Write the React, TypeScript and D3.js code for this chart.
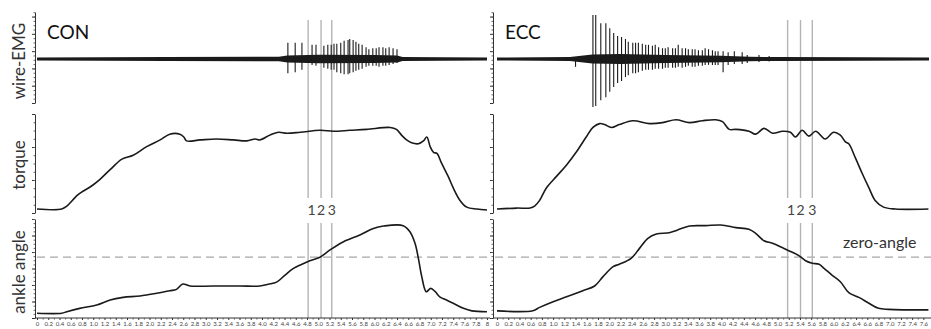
import * as React from 'react';
import * as d3 from 'd3';

const W = 931;
const H = 329;

// ---- event markers (s) ----
const conMarkers = [4.82, 5.05, 5.24];
const eccMarkers = [5.18, 5.41, 5.62];
const markerLabels = ['1', '2', '3'];

// ---- wire-EMG: single motor unit spikes (time s, amplitude up / down, a.u.) ----
const conSpikeT = [4.46, 4.59, 4.71, 4.89, 4.96, 5.10, 5.17, 5.23, 5.28, 5.33, 5.40, 5.46, 5.53, 5.56,
  5.62, 5.67, 5.72, 5.78, 5.85, 5.90, 5.97, 6.03, 6.08, 6.15, 6.20, 6.26, 6.33, 6.40];
const conSpikeUp = [0.33, 0.33, 0.33, 0.29, 0.29, 0.27, 0.29, 0.29, 0.31, 0.31, 0.33, 0.37, 0.39, 0.41,
  0.39, 0.35, 0.31, 0.29, 0.24, 0.20, 0.22, 0.22, 0.24, 0.24, 0.22, 0.24, 0.22, 0.20];
const conSpikeDown = [0.29, 0.27, 0.22, 0.12, 0.14, 0.18, 0.20, 0.22, 0.22, 0.27, 0.29, 0.31, 0.31, 0.29,
  0.27, 0.24, 0.22, 0.20, 0.16, 0.14, 0.14, 0.14, 0.16, 0.14, 0.14, 0.12, 0.10, 0.08];

const eccSpikeT = [1.40, 1.71, 1.76, 1.85, 1.94, 2.01, 2.08, 2.15, 2.22, 2.29, 2.34, 2.42, 2.47, 2.52, 2.59,
  2.65, 2.70, 2.77, 2.82, 2.88, 2.95, 3.00, 3.05, 3.13, 3.18, 3.23, 3.30, 3.36, 3.41, 3.48, 3.53, 3.59,
  3.66, 3.71, 3.77, 3.84, 3.89, 3.94, 4.03, 4.12, 4.23, 4.37, 4.46, 4.67, 4.85];
const eccSpikeUp = [0.02, 0.90, 0.90, 0.73, 0.73, 0.63, 0.53, 0.47, 0.45, 0.41, 0.35, 0.33, 0.33, 0.33, 0.31,
  0.29, 0.29, 0.27, 0.29, 0.24, 0.22, 0.22, 0.24, 0.22, 0.22, 0.29, 0.22, 0.22, 0.20, 0.20, 0.20, 0.18,
  0.18, 0.22, 0.20, 0.18, 0.16, 0.16, 0.16, 0.14, 0.16, 0.14, 0.08, 0.08, 0.06];
const eccSpikeDown = [0.16, 0.98, 0.96, 0.84, 0.78, 0.67, 0.57, 0.49, 0.45, 0.37, 0.33, 0.29, 0.29, 0.27, 0.24,
  0.22, 0.22, 0.22, 0.20, 0.20, 0.20, 0.18, 0.18, 0.18, 0.18, 0.16, 0.18, 0.16, 0.14, 0.16, 0.16, 0.14,
  0.14, 0.12, 0.12, 0.12, 0.12, 0.12, 0.27, 0.12, 0.10, 0.10, 0.08, 0.06, 0.05];

// background noise envelope (half width, a.u.)
const conNoiseT = [0, 2.3, 4.3, 4.45, 5.0, 6.0, 6.4, 6.5, 7.2, 8];
const conNoiseW = [0.03, 0.04, 0.045, 0.07, 0.085, 0.08, 0.07, 0.04, 0.035, 0.03];
const eccNoiseT = [0, 1.3, 1.7, 2.2, 3.0, 4.0, 4.5, 5.0, 6.5, 7.7];
const eccNoiseW = [0.03, 0.04, 0.09, 0.10, 0.08, 0.065, 0.045, 0.04, 0.035, 0.03];

// ---- torque (% of max) ----
const conTorqueT = [0, 0.44, 0.53, 0.73, 0.97, 1.12, 1.30, 1.51, 1.71, 1.95, 2.19, 2.36, 2.54, 2.61, 2.66,
  2.90, 3.19, 3.49, 3.73, 3.88, 3.96, 4.14, 4.29, 4.44, 4.68, 5.03, 5.27, 5.56, 5.86, 6.28, 6.39, 6.48,
  6.57, 6.66, 6.78, 6.87, 6.93, 6.99, 7.05, 7.11, 7.19, 7.31, 7.40, 7.52, 7.64, 7.82, 8.0];
const conTorque = [1, 1, 4, 16, 25, 32, 42, 53, 57, 66, 73, 79, 79, 76, 72,
  73, 74, 73, 72, 74, 73, 78, 81, 80, 81, 83, 82, 83, 84, 86, 84, 78,
  73, 70, 69, 72, 76, 66, 60, 59, 49, 35, 23, 10, 3, 1, 0];

const eccTorqueT = [0, 0.35, 0.59, 0.67, 0.76, 0.88, 1.06, 1.24, 1.42, 1.59, 1.71, 1.83, 1.92, 2.04, 2.18,
  2.42, 2.72, 2.95, 3.19, 3.43, 3.66, 3.90, 4.02, 4.14, 4.26, 4.49, 4.61, 4.76, 4.91, 5.09, 5.23, 5.32,
  5.44, 5.56, 5.68, 5.85, 6.00, 6.12, 6.21, 6.27, 6.39, 6.51, 6.63, 6.74, 6.89, 7.10, 7.69];
const eccTorque = [1, 2, 2, 4, 10, 23, 35, 47, 61, 76, 86, 90, 89, 86, 89,
  93, 90, 91, 94, 91, 93, 94, 92, 84, 84, 82, 79, 85, 80, 82, 81, 76,
  83, 77, 82, 74, 81, 78, 71, 69, 54, 38, 23, 10, 3, 1, 1];

// ---- ankle angle (deg) ----
const conAngleT = [0, 0.44, 0.53, 0.76, 1.06, 1.30, 1.53, 1.83, 2.13, 2.36, 2.48, 2.59, 2.72, 3.13, 3.61,
  3.96, 4.11, 4.26, 4.41, 4.56, 4.71, 4.85, 5.03, 5.21, 5.45, 5.74, 5.98, 6.16, 6.51, 6.63, 6.72, 6.78,
  6.84, 6.92, 7.00, 7.08, 7.16, 7.28, 7.40, 7.58, 7.73, 8.0];
const conAngle = [-28.6, -28.6, -27.8, -26.1, -24.4, -21.8, -20.5, -19.8, -18.4, -17.1, -16.4, -13.7, -14.7, -14.7, -14.7,
  -14.7, -13.8, -12.7, -9.1, -5.7, -3.6, -1.8, 0, 3.7, 7.9, 11.3, 14.7, 15.9, 16.1, 13.0, 7.1, -0.6,
  -9.9, -17.6, -15.9, -17.6, -20.2, -21.8, -23.5, -26.1, -27.4, -27.8];

const eccAngleT = [0, 0.64, 0.76, 1.00, 1.24, 1.53, 1.74, 1.89, 2.07, 2.18, 2.39, 2.54, 2.69, 2.84, 3.07,
  3.22, 3.43, 3.72, 3.99, 4.26, 4.49, 4.61, 4.76, 4.91, 5.09, 5.20, 5.38, 5.50, 5.62, 5.74, 5.83,
  5.97, 6.12, 6.27, 6.45, 6.63, 6.80, 6.98, 7.69];
const eccAngle = [-27.4, -27.3, -25.6, -22.7, -20.2, -17.1, -14.7, -9.9, -4.8, -3.6, -0.6, 4.5, 9.6, 11.8, 12.5,
  13.9, 15.9, 16.1, 16.4, 15.1, 14.2, 12.2, 8.4, 7.1, 4.8, 3.3, 0.8, -1.8, -3.1, -3.6, -5.7,
  -9.1, -12.5, -18.1, -20.5, -23.5, -26.1, -26.6, -26.9];

const rowLabels = ['wire-EMG', 'torque', 'ankle angle'];

const FONT = 'Lato, "Open Sans", sans-serif';
const INK = '#1a1a1a';

function zip(t: number[], v: number[]): [number, number][] {
  return t.map((d, i) => [d, v[i]] as [number, number]);
}

export default function App() {
  const ref = React.useRef<SVGSVGElement>(null);

  React.useEffect(() => {
    const svg = d3.select(ref.current);
    svg.selectAll('*').remove();

    // row geometry (shared by both panels); majorStep is the spacing of the bigger y ticks
    const rows = [
      {top: 12, bottom: 103, majorStep: 0.19},
      {top: 114, bottom: 213, majorStep: 1 / 3},
      {top: 219, bottom: 318, majorStep: 1 / 6},
    ];
    const emgY = d3.scaleLinear().domain([-1, 1]).range([108, 10]);
    const torqueY = d3.scaleLinear().domain([0, 100]).range([210, 114]);
    const angleY = d3.scaleLinear().domain([-30, 20]).range([316, 218]);
    const axisY = 318;

    const panels = [
      {title: 'CON', axisX: 35, end: 490, x: d3.scaleLinear().domain([0, 8]).range([37, 487]), tickMax: 8,
        markers: conMarkers, spikeT: conSpikeT, spikeUp: conSpikeUp, spikeDown: conSpikeDown,
        noiseT: conNoiseT, noiseW: conNoiseW, torque: zip(conTorqueT, conTorque), angle: zip(conAngleT, conAngle)},
      {title: 'ECC', axisX: 493, end: 931, x: d3.scaleLinear().domain([0, 7.7]).range([497, 929]), tickMax: 7.6,
        markers: eccMarkers, spikeT: eccSpikeT, spikeUp: eccSpikeUp, spikeDown: eccSpikeDown,
        noiseT: eccNoiseT, noiseW: eccNoiseW, torque: zip(eccTorqueT, eccTorque), angle: zip(eccAngleT, eccAngle)},
    ];

    panels.forEach((p, pi) => {
      const g = svg.append('g');
      const x = p.x;

      // zero-angle reference
      g.append('line')
        .attr('x1', p.axisX + 2).attr('x2', p.end)
        .attr('y1', angleY(0)).attr('y2', angleY(0))
        .attr('stroke', '#a8a8a8').attr('stroke-width', 1.3).attr('stroke-dasharray', '8,5');

      // event markers
      p.markers.forEach((m) => {
        [[20, 198], [223, axisY]].forEach(([y1, y2]) => {
          g.append('line')
            .attr('x1', x(m)).attr('x2', x(m)).attr('y1', y1).attr('y2', y2)
            .attr('stroke', '#b4b4b4').attr('stroke-width', 1.4);
        });
      });
      const labelOffsets = [3.5, 0, 0];
      p.markers.forEach((m, i) => {
        g.append('text')
          .attr('x', x(m) + labelOffsets[i]).attr('y', 215)
          .attr('text-anchor', 'middle')
          .style('font-family', FONT).style('font-size', '14px').attr('fill', '#444')
          .text(markerLabels[i]);
      });

      // EMG noise band
      const area = d3.area<[number, number]>()
        .x((d) => x(d[0]))
        .y0((d) => emgY(-d[1]))
        .y1((d) => emgY(d[1]));
      g.append('path')
        .datum(zip(p.noiseT, p.noiseW))
        .attr('d', area)
        .attr('fill', INK);

      // EMG spikes
      g.selectAll('line.spike')
        .data(p.spikeT.map((t, i) => ({t, up: p.spikeUp[i], down: p.spikeDown[i]})))
        .enter()
        .append('line')
        .attr('class', 'spike')
        .attr('x1', (d) => x(d.t)).attr('x2', (d) => x(d.t))
        .attr('y1', (d) => emgY(d.up)).attr('y2', (d) => emgY(-d.down))
        .attr('stroke', INK).attr('stroke-width', 1.1);

      // torque & angle curves
      const torqueLine = d3.line<[number, number]>()
        .x((d) => x(d[0])).y((d) => torqueY(d[1]))
        .curve(d3.curveCatmullRom.alpha(0.5));
      const angleLine = d3.line<[number, number]>()
        .x((d) => x(d[0])).y((d) => angleY(d[1]))
        .curve(d3.curveCatmullRom.alpha(0.5));
      g.append('path').datum(p.torque).attr('d', torqueLine)
        .attr('fill', 'none').attr('stroke', INK).attr('stroke-width', 1.6);
      g.append('path').datum(p.angle).attr('d', angleLine)
        .attr('fill', 'none').attr('stroke', INK).attr('stroke-width', 1.6);

      // y axes (no labels, just ticks)
      rows.forEach((r) => {
        const s = d3.scaleLinear().domain([0, 1]).range([r.bottom, r.top]);
        const ax = g.append('g').attr('transform', `translate(${p.axisX},0)`)
          .call(d3.axisLeft(s).tickValues(d3.range(0, 1.001, r.majorStep)).tickSize(3).tickFormat(() => '').tickSizeOuter(0));
        ax.select('.domain').attr('stroke', '#333');
        ax.selectAll('.tick line').attr('stroke', '#333');
        const minor = g.append('g').attr('transform', `translate(${p.axisX},0)`)
          .call(d3.axisLeft(s).tickValues(d3.range(r.majorStep / 4, 1, r.majorStep / 4)).tickSize(1.5).tickFormat(() => '').tickSizeOuter(0));
        minor.select('.domain').remove();
        minor.selectAll('.tick line').attr('stroke', '#666');
      });

      // x axis
      const xAxisScale = d3.scaleLinear().domain(x.domain()).range(x.range());
      const ticks = d3.range(0, p.tickMax + 0.001, 0.2);
      const xa = g.append('g').attr('transform', `translate(0,${axisY})`)
        .call(d3.axisBottom(xAxisScale).tickValues(ticks).tickSize(2).tickSizeOuter(0)
          .tickFormat((n) => {
            const v = +n;
            if (Math.abs(v) < 1e-9) return '0';
            if (v === 8) return '8';
            return v.toFixed(1);
          }));
      xa.select('.domain').attr('d', `M${p.axisX},0H${p.end}`).attr('stroke', '#333');
      xa.selectAll('.tick line').attr('stroke', '#333');
      xa.selectAll('.tick text').attr('y', 4).attr('fill', '#444')
        .style('font-family', FONT).style('font-size', '6px');
      const xm = g.append('g').attr('transform', `translate(0,${axisY})`)
        .call(d3.axisBottom(xAxisScale).tickValues(d3.range(0.1, p.tickMax, 0.2)).tickSize(1.5).tickFormat(() => ''));
      xm.select('.domain').remove();
      xm.selectAll('.tick line').attr('stroke', '#555');

      // panel title
      g.append('text')
        .attr('x', p.axisX + 12).attr('y', 39)
        .style('font-family', FONT).style('font-size', '19px').attr('fill', '#111')
        .text(p.title);

      if (pi === 0) {
        const centers = [61, 165, 272];
        rowLabels.forEach((lab, i) => {
          g.append('text')
            .attr('transform', `translate(25,${centers[i]}) rotate(-90)`)
            .attr('text-anchor', 'middle')
            .style('font-family', FONT).style('font-size', '17px').attr('fill', '#333')
            .text(lab);
        });
      } else {
        g.append('text')
          .attr('x', 843).attr('y', 248)
          .style('font-family', FONT).style('font-size', '16px').attr('fill', '#333')
          .text('zero-angle');
      }
    });
  }, []);

  return <svg ref={ref} width={W} height={H}
    style={{position: 'absolute', left: 0, top: 0, display: 'block', background: '#fff'}} />;
}
